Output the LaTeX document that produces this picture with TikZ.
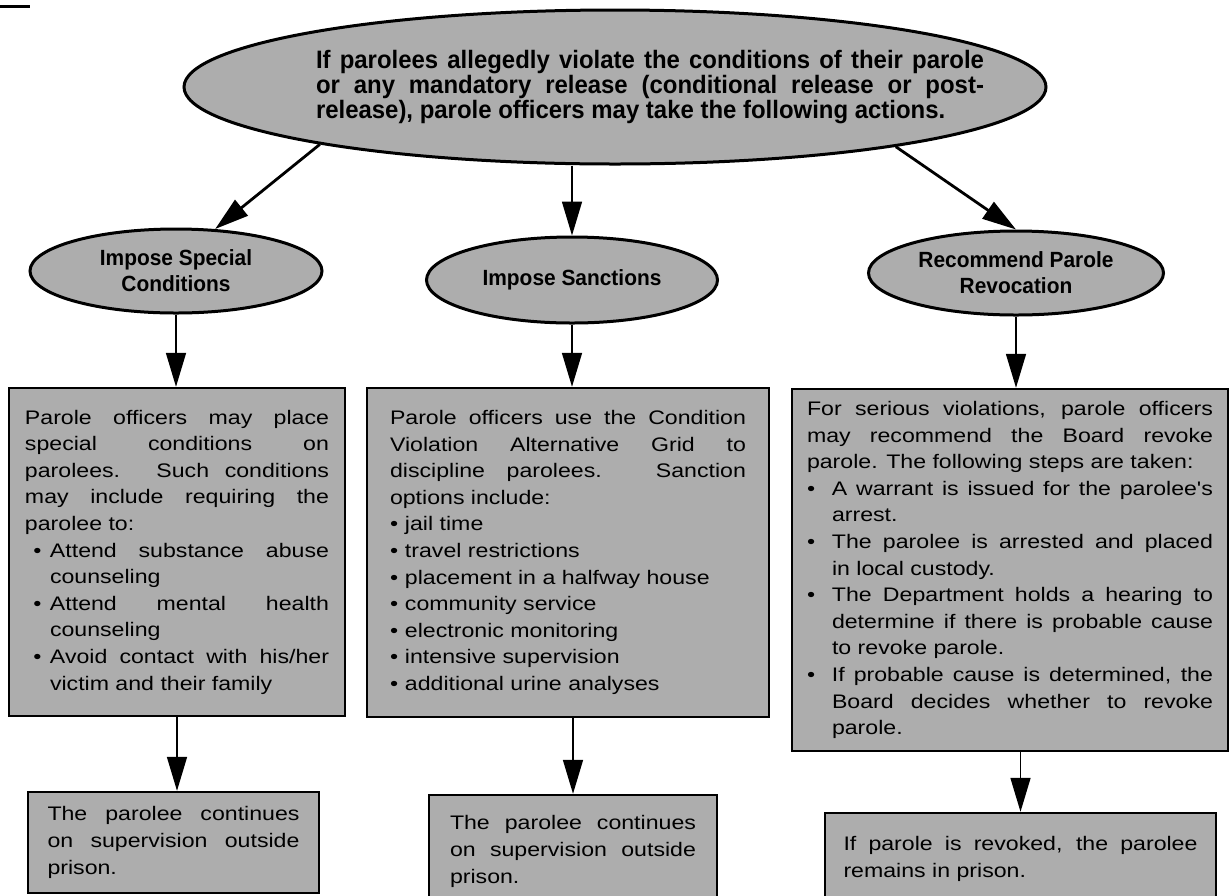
\documentclass[tikz,border=0pt]{standalone}
\usepackage{fontspec}
\setmainfont{Liberation Sans}
\newfontfamily\boxfont{Liberation Sans}[FakeStretch=1.18]
\newfontfamily\ovalfont{Liberation Sans}[FakeStretch=0.95]
\usepackage{tikz}
\usetikzlibrary{positioning, arrows.meta, shapes.geometric}
\setlength{\parindent}{0pt}
\hyphenpenalty=10000
\exhyphenpenalty=10000
\tolerance=10000
\newcommand{\dotitem}[1][l]{\par\hangindent=12.5pt\makebox[12.5pt][#1]{\textbullet}}
\newcommand{\tightitem}{\par\makebox[7.5pt][l]{\textbullet}}

\begin{document}
\begin{tikzpicture}[
  x=0.5pt, y=-0.5pt,
  oval/.style={ellipse, draw, line width=1.5pt, fill=black!32, inner sep=0pt,
               align=center, font=\ovalfont\bfseries\fontsize{11pt}{13pt}\selectfont},
  topnote/.style={align=justify, text width=334pt, inner sep=0pt,
                  font=\ovalfont\bfseries\fontsize{12.6pt}{12.5pt}\selectfont},
  card/.style={rectangle, draw, line width=1.2pt, fill=black!32, inner sep=0pt,
               align=justify, font=\boxfont\fontsize{9.8pt}{13.3pt}\selectfont},
  arrow/.style={-{Triangle[length=17pt, width=10pt]}, line width=0.8pt},
  slant/.style={arrow, line width=1.4pt}
]
\useasboundingbox (0,0) rectangle (1230,895);

\coordinate (rule-a) at (0,6);
\coordinate (rule-b) at (30,6);
\draw[line width=1.5pt] (rule-a) -- (rule-b);

\node[oval, minimum width=431pt, minimum height=77pt] (top) at (615,87) {};
\node[topnote] (toptext) at (650,87) {If parolees allegedly violate the conditions of their parole\linebreak or any mandatory release (conditional release or post-\linebreak release), parole officers may take the following actions.};

\node[oval, minimum width=146pt, minimum height=42pt] (special) at (176,271) {Impose Special\\Conditions};
\node[oval, minimum width=145.5pt, minimum height=43pt] (sanctions) at (572,280) {Impose Sanctions};
\node[oval, minimum width=147.5pt, minimum height=42pt] (revoke) at (1016,273) {Recommend Parole\\Revocation};

\node[card, minimum width=168pt, minimum height=164pt, text width=152pt] (specbox) at (177,552) {Parole officers may place\linebreak special conditions on\linebreak parolees. Such conditions\linebreak may include requiring the\linebreak parolee to:
\dotitem[c]Attend substance abuse\linebreak counseling
\dotitem[c]Attend mental health\linebreak counseling
\dotitem[c]Avoid contact with his/her\linebreak victim and their family\par};

\node[card, minimum width=201pt, minimum height=164.5pt, text width=178pt] (sanbox) at (568,552.5) {Parole officers use the Condition\linebreak Violation Alternative Grid to\linebreak discipline parolees. Sanction\linebreak options include:
\tightitem jail time
\tightitem travel restrictions
\tightitem placement in a halfway house
\tightitem community service
\tightitem electronic monitoring
\tightitem intensive supervision
\tightitem additional urine analyses\par};

\node[card, minimum width=218pt, minimum height=181pt, text width=203pt] (revbox) at (1010,570) {For serious violations, parole officers\linebreak may recommend the Board revoke\linebreak parole. The following steps are taken:
\dotitem A warrant is issued for the parolee's\linebreak arrest.
\dotitem The parolee is arrested and placed\linebreak in local custody.
\dotitem The Department holds a hearing to\linebreak determine if there is probable cause\linebreak to revoke parole.
\dotitem If probable cause is determined, the\linebreak Board decides whether to revoke\linebreak parole.\par};

\node[card, minimum width=145.5pt, minimum height=50.5pt, text width=126pt] (specend) at (173.5,842.5) {The parolee continues\linebreak on supervision outside\linebreak prison.};
\node[card, minimum width=144pt, minimum height=56.5pt, text width=123pt] (sanend) at (573,851.5) {The parolee continues\linebreak on supervision outside\linebreak prison.};
\node[card, minimum width=195.5pt, minimum height=46pt, text width=177pt] (revend) at (1020.5,859) {If parole is revoked, the parolee\linebreak remains in prison.};

\draw[slant] (top.191.85) -- (special.47);
\draw[arrow] (top.south -| sanctions.north) -- (sanctions.north);
\draw[slant] (top.348.2) -- (revoke.north);
\draw[arrow] (special.south) -- (special.south |- specbox.north);
\draw[arrow] (sanctions.south) -- (sanctions.south |- sanbox.north);
\draw[arrow] (revoke.south) -- (revoke.south |- revbox.north);
\draw[arrow] (specbox.south) -- (specbox.south |- specend.north);
\draw[arrow] (sanend.north |- sanbox.south) -- (sanend.north);
\draw[arrow] (revend.north |- revbox.south) -- (revend.north);
\end{tikzpicture}
\end{document}
